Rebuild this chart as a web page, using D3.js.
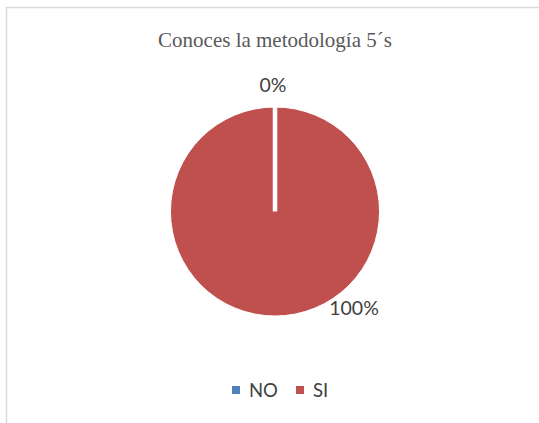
<!DOCTYPE html>
<html>
<head>
<meta charset="utf-8">
<script src="https://cdn.jsdelivr.net/npm/d3@7"></script>
<style>
  html, body { margin: 0; padding: 0; background: #fff; }
  svg { display: block; }
</style>
</head>
<body>
<svg id="chart" width="539" height="423"></svg>
<script>
const categories = ["NO", "SI"];
const values = [0, 100];
const labels = ["0%", "100%"];
const colors = ["#4f81bd", "#c0504d"];
const title = "Conoces la metodología 5´s";

const svg = d3.select("#chart");

// frame (partially clipped)
svg.append("path")
  .attr("d", "M6.5,430 L6.5,7.5 L545,7.5")
  .attr("fill", "none")
  .attr("stroke", "#d9d9d9")
  .attr("stroke-width", 1.5);

svg.append("text")
  .attr("x", 275).attr("y", 47)
  .attr("text-anchor", "middle")
  .attr("font-family", "'Liberation Serif', 'Times New Roman', serif")
  .attr("font-size", 21)
  .attr("fill", "#595959")
  .text(title);

const cx = 275, cy = 211.5, r = 104.5;
const pie = d3.pie().sort(null).value(d => d)(values);
const arc = d3.arc().innerRadius(0).outerRadius(r);

const g = svg.append("g").attr("transform", `translate(${cx},${cy})`);
g.selectAll("path.slice").data(pie).enter().append("path")
  .attr("class", "slice")
  .attr("d", arc)
  .attr("fill", (d, i) => colors[i])
  .attr("stroke", "#fff")
  .attr("stroke-width", 1);

// slice boundary edges (white separators)
pie.forEach(d => {
  if (d.endAngle - d.startAngle <= 0) return;
  [d.startAngle].forEach(a => {
    g.append("line")
      .attr("x1", 0).attr("y1", 0)
      .attr("x2", (r + 1) * Math.sin(a))
      .attr("y2", -(r + 1) * Math.cos(a))
      .attr("stroke", "#fff")
      .attr("stroke-width", 4.5);
  });
});

// data labels
const labelPos = [[273 - cx, 92 - cy], [354 - cx, 315 - cy]];
g.selectAll("text.lbl").data(pie).enter().append("text")
  .attr("class", "lbl")
  .attr("x", (d, i) => labelPos[i][0])
  .attr("y", (d, i) => labelPos[i][1])
  .attr("text-anchor", "middle")
  .attr("font-family", "Lato, 'Open Sans', sans-serif")
  .attr("font-size", 19.5)
  .attr("fill", "#404040")
  .text((d, i) => labels[i]);

// legend
const legendX = [232, 296];
const lg = svg.append("g");
categories.forEach((c, i) => {
  lg.append("rect")
    .attr("x", legendX[i]).attr("y", 386)
    .attr("width", 8).attr("height", 8)
    .attr("fill", colors[i]);
  lg.append("text")
    .attr("x", legendX[i] + 17).attr("y", 397)
    .attr("font-family", "Lato, 'Open Sans', sans-serif")
    .attr("font-size", 18.5)
    .attr("fill", "#404040")
    .text(c);
});
</script>
</body>
</html>
